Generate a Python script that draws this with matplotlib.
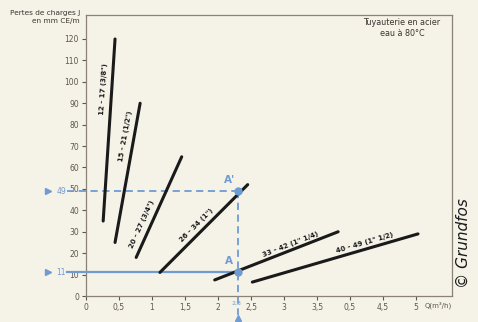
import numpy as np
import matplotlib
matplotlib.use("Agg")
import matplotlib.pyplot as plt

# Data: pipe lines (Q m3/h, J mm CE/m) start and end points
pipe_labels = ['12 - 17 (3/8")', '15 - 21 (1/2")', '20 - 27 (3/4")',
               '26 - 34 (1")', '33 - 42 (1" 1/4)', '40 - 49 (1" 1/2)']
q_start = [0.26, 0.44, 0.76, 1.12, 1.95, 2.52]
j_start = [35, 25, 18, 11, 7.5, 6.5]
q_end = [0.44, 0.82, 1.45, 2.45, 3.82, 5.03]
j_end = [120, 90, 65, 52, 30, 29]
# label position: fraction along the line
label_frac = [0.72, 0.75, 0.30, 0.48, 0.63, 0.69]

x_ticks = [0, 0.5, 1, 1.5, 2, 2.5, 3, 3.5, 4, 4.5, 5]
x_ticklabels = ['0', '0,5', '1', '1,5', '2', '2,5', '3', '3,5', '0,5', '4,5', '5']
y_ticks = [0, 10, 20, 30, 40, 50, 60, 70, 80, 90, 100, 110, 120]

point_q = 2.3
point_a = 11
point_a2 = 49

bg = '#f5f2e8'
blue = '#6f9bd3'
grid_c = '#b6b0a5'
tick_c = '#5e574c'

fig = plt.figure(figsize=(4.78, 3.22), dpi=100, facecolor=bg)
ax = fig.add_axes([86/478, 1-296/322, (452-86)/478, (296-15)/322])
ax.set_facecolor(bg)
ax.set_xlim(0, 5.545)
ax.set_ylim(0, 131.2)

ax.set_xticks(x_ticks)
ax.set_xticklabels(x_ticklabels)
ax.set_yticks(y_ticks)
ax.set_xticks(np.arange(0, 5.01, 0.5), minor=True)
ax.set_yticks(np.arange(0, 121, 10), minor=True)
ax.grid(True, which='minor', color=grid_c, lw=1.0)
ax.tick_params(which='minor', length=0)
ax.tick_params(which='major', labelsize=5.5, colors=tick_c, length=3, width=0.8, pad=2)
for s in ax.spines.values():
    s.set_color('#8a8275')
    s.set_linewidth(0.9)

fig.canvas.draw()
# pipe lines
for i in range(len(pipe_labels)):
    ax.plot([q_start[i], q_end[i]], [j_start[i], j_end[i]], color='#1a1a1a',
            lw=2.2, solid_capstyle='round', zorder=4)
    p0 = ax.transData.transform((q_start[i], j_start[i]))
    p1 = ax.transData.transform((q_end[i], j_end[i]))
    d = p1 - p0
    ang = np.degrees(np.arctan2(d[1], d[0]))
    n = np.array([-d[1], d[0]]) / np.hypot(*d)  # left normal (upper-left)
    t = label_frac[i]
    qx = q_start[i] + t * (q_end[i] - q_start[i])
    jy = j_start[i] + t * (j_end[i] - j_start[i])
    off = 8.5 if ang > 60 else (7.5 if ang > 30 else 6)
    ax.annotate(pipe_labels[i], (qx, jy), xytext=(n[0]*off, n[1]*off),
                textcoords='offset pixels', rotation=ang, rotation_mode='anchor',
                ha='center', va='center', fontsize=5, fontweight='bold',
                color='#1a1a1a', zorder=5)

# blue construction lines
ax.plot([-0.29, point_q], [point_a, point_a], color=blue, lw=1.6, clip_on=False, zorder=3)
ax.plot([-0.29, point_q], [point_a2, point_a2], color=blue, lw=1.3, ls=(0, (4, 2.5)),
        clip_on=False, zorder=3)
ax.plot([point_q, point_q], [point_a2, -9], color=blue, lw=1.3, ls=(0, (4, 2.5)),
        clip_on=False, zorder=3)
ax.plot([point_q, point_q], [point_a, point_a2], 'o', color=blue, ms=5, zorder=6)
ax.plot([point_q], [-10.3], marker='^', color=blue, ms=5, clip_on=False)
ax.plot([-0.57], [point_a], marker='>', color=blue, ms=5, clip_on=False)
ax.plot([-0.57], [point_a2], marker='>', color=blue, ms=5, clip_on=False)
ax.text(-0.45, point_a, str(point_a), color=blue, fontsize=5.5, va='center', ha='left')
ax.text(-0.45, point_a2, str(point_a2), color=blue, fontsize=5.5, va='center', ha='left')
ax.text(point_q - 0.13, point_a + 3, 'A', color=blue, fontsize=7.5, fontweight='bold',
        ha='center', va='bottom')
ax.text(point_q - 0.13, point_a2 + 3, "A'", color=blue, fontsize=7.5, fontweight='bold',
        ha='center', va='bottom')
ax.text(point_q - 0.02, -2.2, '2,3', color=blue, fontsize=4.5, ha='center', va='top')

# annotations
fig.text(80/478, 1-17/322, 'Pertes de charges J\nen mm CE/m', ha='right', va='center',
         fontsize=5.3, color='#3a3530', linespacing=1.3)
fig.text(402/478, 1-28/322, 'Tuyauterie en acier\neau à 80°C', ha='center', va='center',
         fontsize=5.8, color='#3a3530', linespacing=1.2)
fig.text(452/478, 1-305/322, 'Q(m³/h)', ha='right', va='center', fontsize=5, color=tick_c)
fig.text(463/478, 1-243/322, '© Grundfos', rotation=90, ha='center', va='center',
         fontsize=11, style='italic', color='#1a1a1a')

fig.savefig('out.png', dpi=100, facecolor=bg)
